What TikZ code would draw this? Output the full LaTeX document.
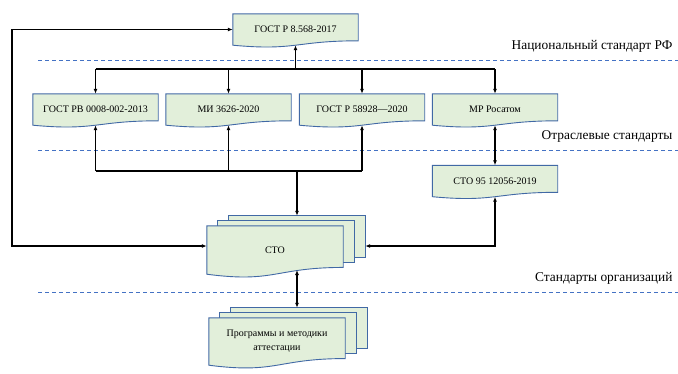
\documentclass[tikz,border=0pt]{standalone}
\usepackage{fontspec}
\setmainfont{Liberation Serif}
\usetikzlibrary{calc,backgrounds,arrows.meta}
\definecolor{docfill}{RGB}{226,239,218}
\definecolor{docedge}{RGB}{65,105,165}
\definecolor{levelline}{RGB}{68,114,196}
\tikzset{
  doc/.style={minimum width=125pt,minimum height=31pt,inner sep=0pt,
    font=\fontsize{10}{14}\selectfont},
  docline/.style={draw=docedge,fill=docfill,line width=0.9pt},
  level/.style={levelline,dash pattern=on 4pt off 3pt,line width=0.9pt},
  levelname/.style={anchor=east,font=\fontsize{13.4}{16}\selectfont},
  link/.style={line width=1.1pt,>={Latex[length=5pt,width=4pt]}}
}
\newcommand{\docpath}[1]{\draw[docline] (#1.north west) -- (#1.north east)
  -- ($(#1.north east)!0.86!(#1.south east)$)
  .. controls ($(#1.north)!0.86!(#1.south)$) and ($(#1.north)!1.187!(#1.south)$)
  .. (#1.south west) -- cycle;}
\newcommand{\pagepath}[3]{\draw[docline] ($(#1.north west)+(#2,#3)$)
  rectangle ($(#1.north east)!0.86!(#1.south east)+(#2,#3)$);}
\begin{document}
\begin{tikzpicture}[x=1pt,y=-1pt]
  \useasboundingbox (0,0) rectangle (678,373);
  \node[doc] (top) at (295.5,29.5) {ГОСТ Р 8.568-2017};
  \node[doc] (rv) at (95.5,109.5) {ГОСТ РВ 0008-002-2013};
  \node[doc] (mi) at (228.5,109.5) {МИ 3626-2020};
  \node[doc] (gost) at (362,109.5) {ГОСТ Р 58928—2020};
  \node[doc] (mr) at (495,109.5) {МР Росатом};
  \node[doc] (sto95) at (495,181) {СТО 95 12056-2019};
  \node[doc,minimum width=136pt,minimum height=48pt] (sto) at (275,250) {СТО};
  \node[doc,minimum width=136pt,minimum height=47pt,align=center] (prog)
    at (277,341.5) {Программы и методики\\аттестации};
  \begin{scope}[on background layer]
    \foreach \n in {top,rv,mi,gost,mr,sto95} \docpath{\n};
    \foreach \n in {sto,prog} {\pagepath{\n}{22}{-10} \pagepath{\n}{11}{-5} \docpath{\n}};
  \end{scope}
  \foreach \y/\name [count=\i] in {60/Национальный стандарт РФ,
      150/Отраслевые стандарты,292/Стандарты организаций} {
    \draw[level] (38,\y) -- (678,\y);
    \node[levelname] (lvl\i) at (676,\y-14) {\name};
  }
  \coordinate (bus) at (295.5,69);
  \coordinate (hub) at (297,171);
  \coordinate (loop) at (12,246);
  \coordinate (sto-back) at ($(sto.north)+(0,-10)$);
  \coordinate (sto-side) at ($(sto.east)+(22,-4)$);
  \coordinate (sto-foot) at (297,270);
  \coordinate (prog-back) at ($(prog.north)+(0,-10)$);
  \draw[link,->] (bus) -- (top.south);
  \draw[link] (rv.north |- bus) -- (mr.north |- bus);
  \foreach \n in {rv,mi,gost,mr} \draw[link,->] (\n.north |- bus) -- (\n.north);
  \draw[link] (rv.south |- hub) -- (gost.south |- hub);
  \foreach \n in {rv,mi,gost} \draw[link,->] (\n.south |- hub) -- (\n.south);
  \draw[link,->] (hub) -- (hub |- sto-back);
  \draw[link,<->] (mr.south) -- (sto95.north);
  \draw[link,<->] (sto95.south) |- (sto-side);
  \draw[link,<->] (top.west) -| (loop) -- (loop -| sto.west);
  \draw[link,<->] (sto-foot) -- (sto-foot |- prog-back);
\end{tikzpicture}
\end{document}
